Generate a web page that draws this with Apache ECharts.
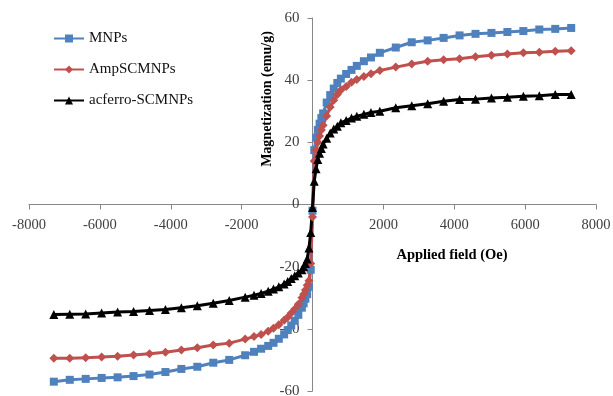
<!DOCTYPE html>
<html>
<head>
<meta charset="utf-8">
<script src="https://cdn.jsdelivr.net/npm/echarts@6/dist/echarts.min.js"></script>
<style>
  html, body { margin: 0; padding: 0; background: #fff; }
  #chart { width: 613px; height: 396px; }
</style>
</head>
<body>
<div id="chart"></div>
<script>
// applied field (Oe)
var field = [-7300, -6850, -6400, -5950, -5500, -5050, -4600, -4150, -3700, -3250,
  -2800, -2350, -1900, -1650, -1450, -1250, -1100, -950, -800, -700,
  -600, -500, -400, -300, -250, -200, -150, -100, -50, 0,
  50, 100, 150, 200, 250, 300, 400, 500, 600, 700,
  800, 950, 1100, 1250, 1450, 1650, 1900, 2350, 2800, 3250,
  3700, 4150, 4600, 5050, 5500, 5950, 6400, 6850, 7300];

// magnetization (emu/g)
var mnps = [-57.0, -56.4, -56.1, -55.8, -55.6, -55.2, -54.7, -53.9, -52.9, -52.2,
  -50.9, -50.0, -48.5, -47.4, -46.4, -45.5, -44.5, -43.2, -41.8, -40.4,
  -38.9, -37.4, -35.5, -33.2, -31.8, -30.3, -28.8, -26.5, -21.0, -2,
  17.5, 21.5, 24, 26, 27.8, 29.3, 32.8, 35.2, 37.3, 39.1,
  40.5, 42, 43.3, 44.6, 46.1, 47.3, 48.8, 50.5, 52.2, 52.8,
  53.6, 54.4, 54.9, 55.2, 55.5, 55.8, 56.3, 56.5, 56.8];
var ampscmnps = [-49.5, -49.5, -49.3, -49.1, -48.8, -48.4, -48.0, -47.5, -46.8, -46.1,
  -45.2, -44.6, -43.3, -42.5, -41.8, -40.8, -39.8, -38.7, -37.2, -36.3,
  -34.9, -33.6, -32.1, -30.0, -28.9, -27.5, -26.0, -24.5, -19.0, -4,
  14, 17.5, 20, 22, 24, 25.5, 28.5, 31.4, 33.5, 35.4,
  36.8, 38.0, 39.3, 40.2, 41.2, 42.1, 43.1, 44.2, 45.2, 46.1,
  46.6, 46.9, 47.5, 48.0, 48.4, 48.8, 49.0, 49.3, 49.5];
var acferro = [-35.4, -35.3, -35.2, -34.9, -34.6, -34.4, -34.1, -33.8, -33.2, -32.6,
  -31.8, -30.9, -29.8, -29.2, -28.6, -27.9, -27.2, -26.5, -25.6, -24.8,
  -23.8, -22.9, -22.0, -21.0, -20.0, -19.0, -17.5, -14.0, -9.0, -1,
  7.5, 11.5, 14.5, 16.5, 18, 19.5, 21.3, 23, 24.3, 25.2,
  26.3, 27.0, 27.8, 28.4, 29.0, 29.6, 30.0, 31.1, 31.8, 32.4,
  33.2, 33.8, 33.9, 34.3, 34.5, 34.8, 35.0, 35.4, 35.4];

var seriesNames = ['MNPs', 'AmpSCMNPs', 'acferro-SCMNPs'];
var xTitle = 'Applied field (Oe)';
var yTitle = 'Magnetization (emu/g)';

function pairs(ys) {
  return field.map(function (x, i) { return [x, ys[i]]; });
}

var serif = '"Liberation Serif", "DejaVu Serif", serif';
var chart = echarts.init(document.getElementById('chart'));

// plot area: x 29..596, y 18..391 ; axes cross at the origin
var gridBox = { left: 29, right: 17, top: 18, bottom: 5 };
var plotW = 613 - gridBox.left - gridBox.right;
var plotH = 396 - gridBox.top - gridBox.bottom;

var option = {
  animation: false,
  backgroundColor: '#fff',
  grid: {
    left: gridBox.left, right: gridBox.right, top: gridBox.top, bottom: gridBox.bottom,
    containLabel: false, outerBoundsMode: 'none'
  },
  legend: {
    orient: 'vertical',
    left: 48,
    top: 26,
    itemWidth: 30,
    itemHeight: 10,
    itemGap: 16,
    textStyle: { fontFamily: serif, fontSize: 15, color: '#111' },
    data: seriesNames
  },
  xAxis: {
    type: 'value',
    min: -8000,
    max: 8000,
    interval: 2000,
    position: 'bottom',
    offset: -plotH / 2,
    splitLine: { show: false },
    axisLine: { onZero: false, lineStyle: { color: '#888', width: 1 } },
    axisTick: { show: true, length: 5, lineStyle: { color: '#888' } },
    axisLabel: {
      margin: 13,
      fontFamily: serif,
      fontSize: 14.5,
      color: '#404040',
      formatter: function (v) { return v === 0 ? '' : String(v); }
    }
  },
  yAxis: {
    type: 'value',
    min: -60,
    max: 60,
    interval: 20,
    position: 'left',
    offset: -plotW / 2,
    splitLine: { show: false },
    axisLine: { onZero: false, lineStyle: { color: '#888', width: 1 } },
    axisTick: { show: true, length: 5, lineStyle: { color: '#888' } },
    axisLabel: {
      margin: 13,
      fontFamily: serif,
      fontSize: 15,
      color: '#404040'
    }
  },
  graphic: [
    {
      type: 'text',
      x: 267,
      y: 99,
      rotation: Math.PI / 2,
      style: {
        text: yTitle,
        fontFamily: serif,
        fontSize: 14,
        fontWeight: 'bold',
        fill: '#000',
        align: 'center',
        verticalAlign: 'middle'
      }
    },
    {
      type: 'text',
      x: 452,
      y: 255,
      style: {
        text: xTitle,
        fontFamily: serif,
        fontSize: 14.5,
        fontWeight: 'bold',
        fill: '#000',
        align: 'center',
        verticalAlign: 'middle'
      }
    }
  ],
  series: [
    {
      name: seriesNames[0],
      type: 'line',
      data: pairs(mnps),
      symbol: 'rect',
      symbolSize: 8,
      showAllSymbol: true,
      color: '#4F81BD',
      lineStyle: { width: 3, color: '#4F81BD' },
      itemStyle: { color: '#4F81BD' }
    },
    {
      name: seriesNames[1],
      type: 'line',
      data: pairs(ampscmnps),
      symbol: 'diamond',
      symbolSize: 9,
      showAllSymbol: true,
      color: '#C0504D',
      lineStyle: { width: 3, color: '#C0504D' },
      itemStyle: { color: '#C0504D' }
    },
    {
      name: seriesNames[2],
      type: 'line',
      data: pairs(acferro),
      symbol: 'triangle',
      symbolSize: 9,
      showAllSymbol: true,
      color: '#000',
      lineStyle: { width: 3, color: '#000' },
      itemStyle: { color: '#000' }
    }
  ]
};

chart.setOption(option);
</script>
</body>
</html>
